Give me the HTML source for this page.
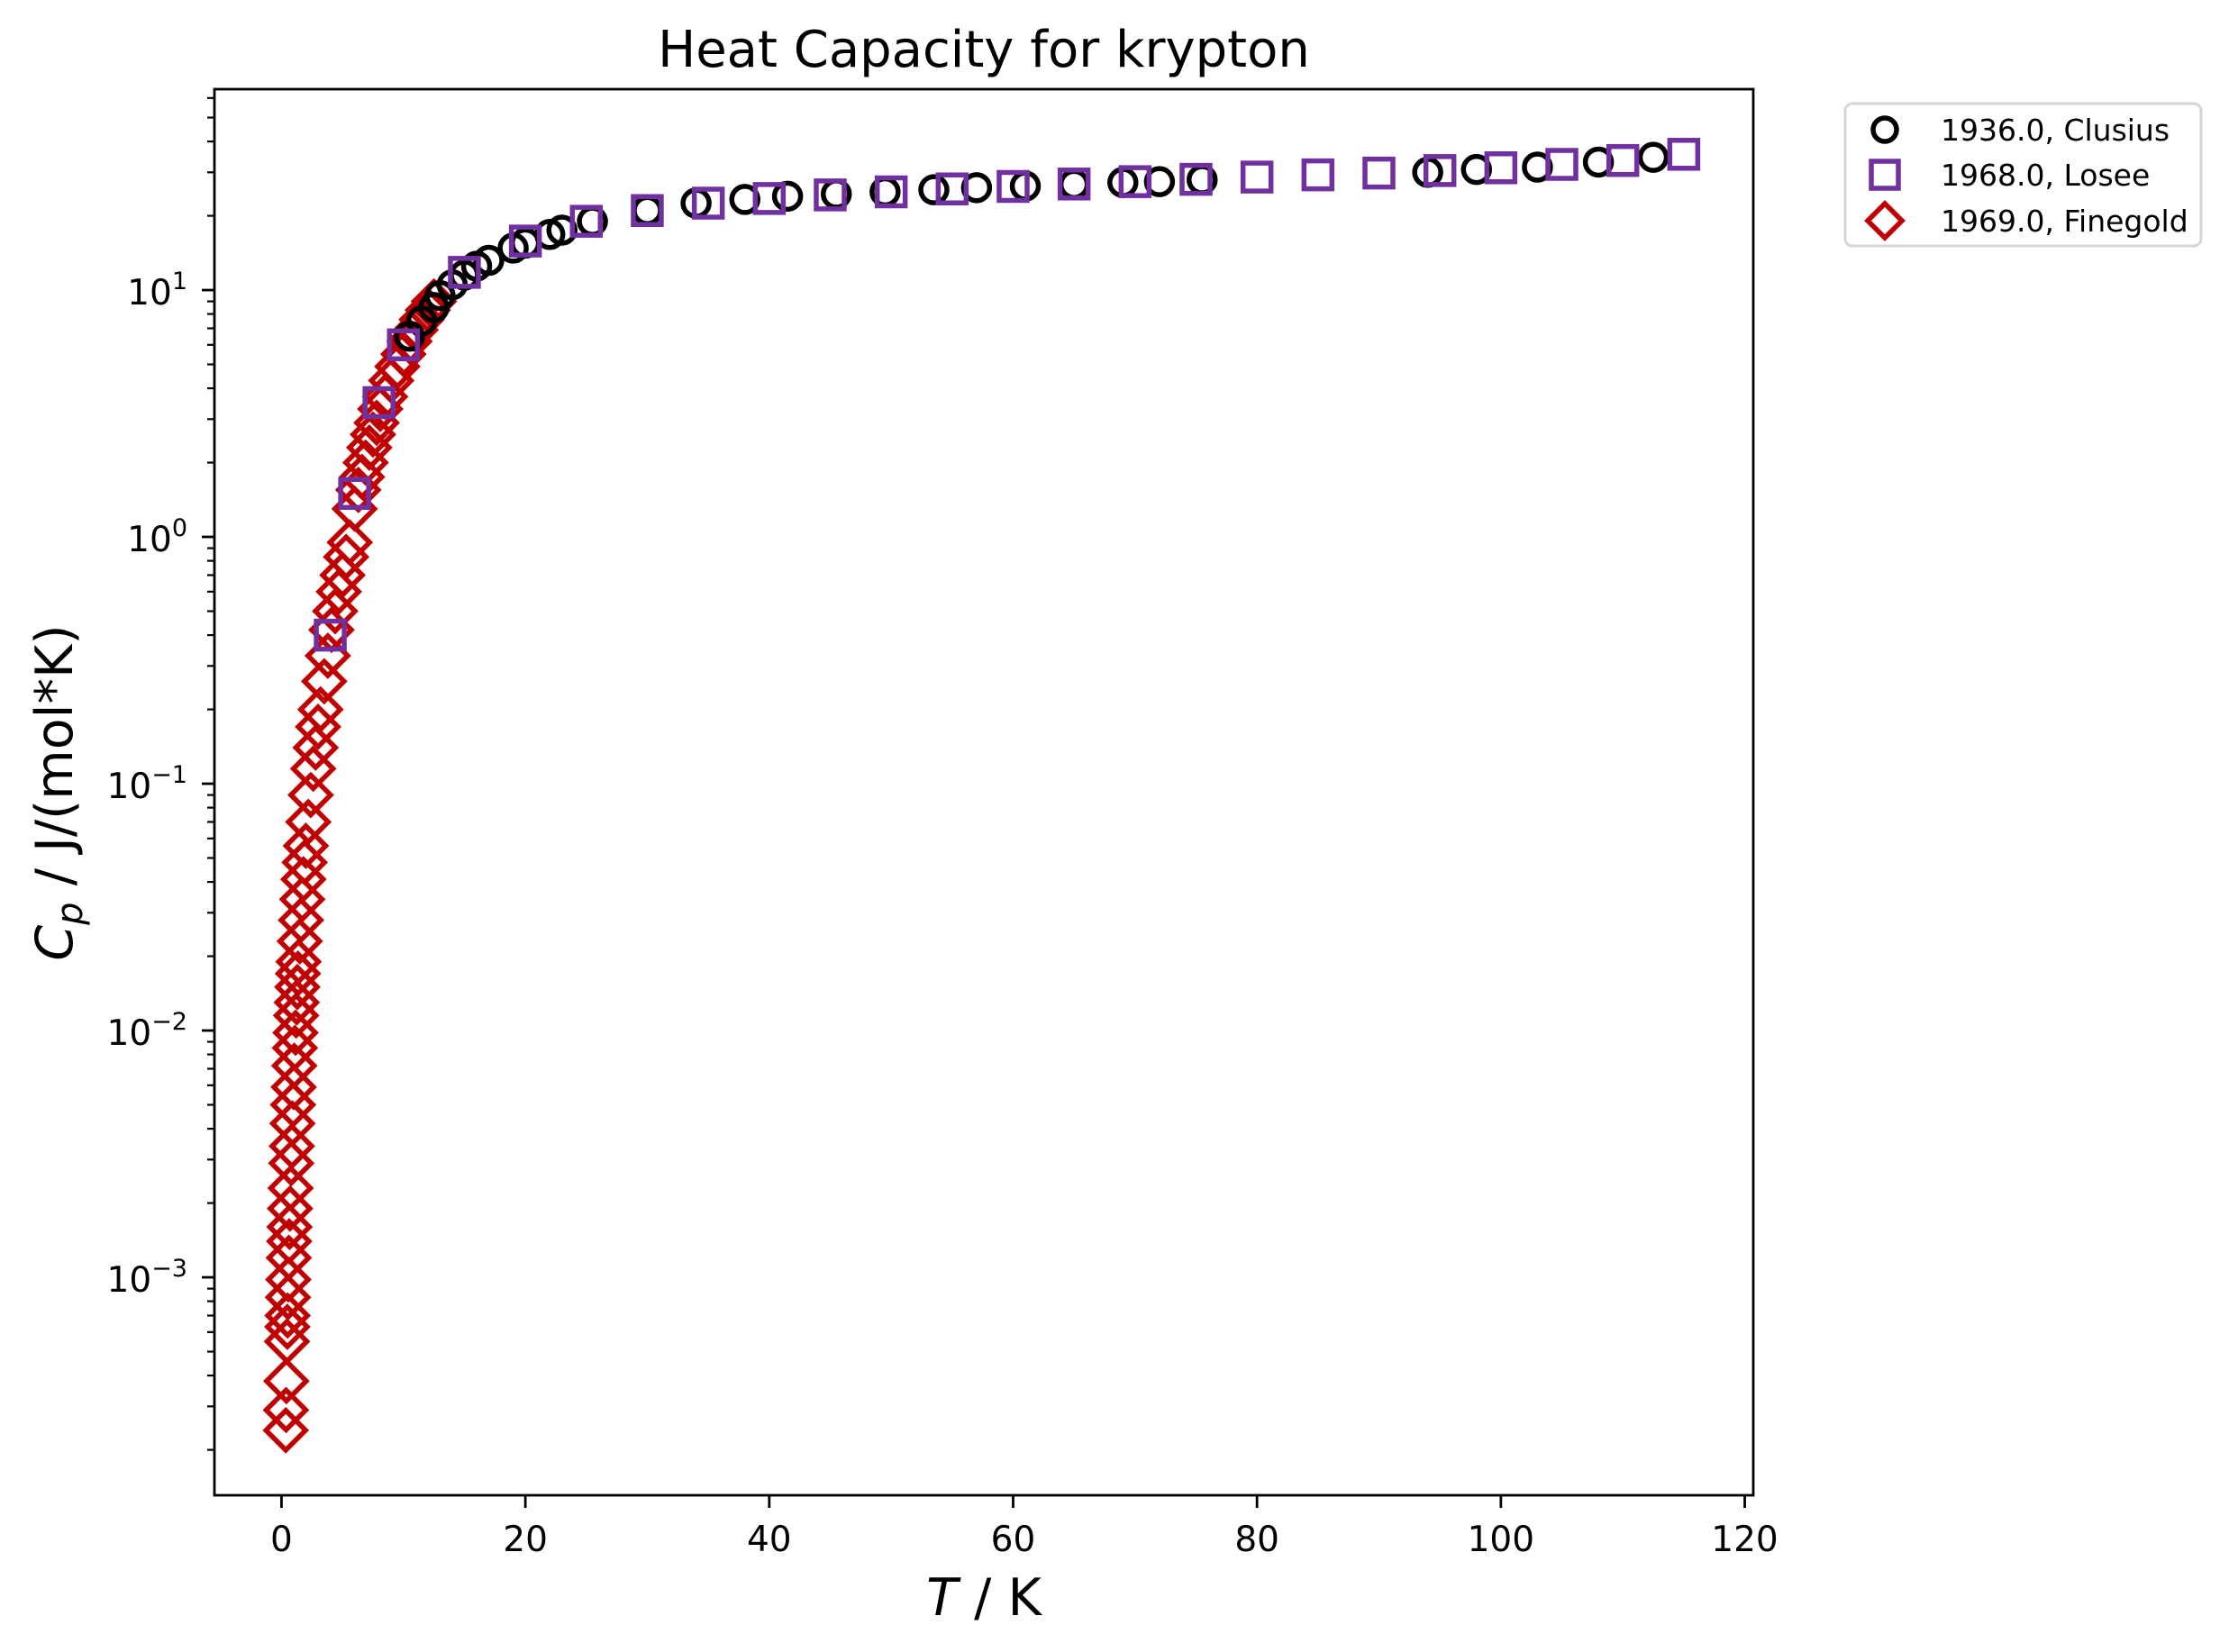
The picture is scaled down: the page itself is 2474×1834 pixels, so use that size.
<!DOCTYPE html>
<html><head><meta charset="utf-8"><style>
html,body{margin:0;padding:0;background:#fff}
svg{display:block;font-family:"DejaVu Sans","Liberation Sans",sans-serif}
</style></head><body>
<svg id="chart" width="2474" height="1834" viewBox="0 0 2474 1834" xmlns="http://www.w3.org/2000/svg">
<rect x="0" y="0" width="2474" height="1834" fill="#fff"/>
<text x="1092" y="74" font-size="56" text-anchor="middle">Heat Capacity for krypton</text>
<text x="1092" y="1793" font-size="57" text-anchor="middle"><tspan font-style="italic">T</tspan> / K</text>
<text transform="translate(80,880) rotate(-90)" font-size="57" text-anchor="middle"><tspan font-style="italic">C</tspan><tspan font-style="italic" font-size="40" dy="11">p</tspan><tspan dy="-11"> / J/(mol*K)</tspan></text>
<g id="plot"></g>
<rect x="238" y="99" width="1708" height="1561" fill="none" stroke="#000" stroke-width="2.8"/>
<g>
<rect x="2048" y="115" width="395" height="158" rx="8" fill="#fff" stroke="#d6d6d6" stroke-width="3"/>
<circle cx="2092" cy="144" r="13" fill="none" stroke="#000" stroke-width="5.5"/>
<text x="2154" y="156" font-size="33">1936.0, Clusius</text>
<rect x="2077" y="179" width="30" height="30" fill="none" stroke="#7030a0" stroke-width="5.5"/>
<text x="2154" y="206" font-size="33">1968.0, Losee</text>
<path d="M2092 226 L2111 245 L2092 264 L2073 245 Z" fill="none" stroke="#c00000" stroke-width="5.5"/>
<text x="2154" y="257" font-size="33">1969.0, Finegold</text>
</g>
</svg>
<script>
const xTicks = [0, 20, 40, 60, 80, 100, 120];
const yDecades = [-3, -2, -1, 0, 1];
const clusiusT = [10.5,11.5,12.5,13,14,15,16,17,19,20,22,23,25.5,30,34,38,41.5,45.5,49.5,53.5,57,61,65,69,72,75.5,94,98,103,108,112.5];
const clusiusCp = [6.5,7.5,8.5,9.5,10.5,11.5,12.5,13.2,14.8,15.5,16.8,17.5,19,21,22.5,23.3,24,24.5,25,25.5,26,26.4,26.8,27.3,27.5,28,30,30.8,31.5,33,34.5];
const loseeT = [4,6,8,10,15,20,25,30,35,40,45,50,55,60,65,70,75,80,85,90,95,100,105,110,115];
const loseeCp = [0.4,1.5,3.5,6,11.8,15.8,19,21,22.5,23.5,24.3,25,25.7,26.3,26.9,27.5,28.1,28.7,29.3,29.8,30.5,31.3,32.3,33.5,35.5];
const finegoldT = [0.35,0.37,0.4,0.45,0.48,0.5,0.53,0.56,0.6,0.63,0.66,0.7,0.75,0.8,0.85,0.9,0.95,1.0,1.05,1.1,1.15,1.2,1.25,1.3,1.35,1.4,1.5,1.6,1.7,1.8,1.9,2.0,2.2,2.4,2.6,2.8,3.0,3.2,3.5,3.8,4.1,4.4,4.7,5.0,5.3,5.6,6.0,6.3,6.6,6.9,7.2,7.5,7.8,8.1,8.5,9.0,9.5,10.0,10.5,11.0,11.5,12.0,12.5];
const finegoldCp = [2.4e-4,2.9e-4,3.8e-4,5.5e-4,6.3e-4,7.0e-4,8.3e-4,9.8e-4,1.2e-3,1.4e-3,1.6e-3,1.9e-3,2.3e-3,2.9e-3,3.4e-3,4.2e-3,5.0e-3,5.9e-3,7.2e-3,8.5e-3,9.8e-3,1.15e-2,1.3e-2,1.5e-2,1.7e-2,1.9e-2,2.3e-2,2.8e-2,3.4e-2,4.1e-2,4.8e-2,5.6e-2,7.0e-2,9.0e-2,0.115,0.14,0.17,0.2,0.26,0.33,0.42,0.5,0.6,0.7,0.83,0.95,1.3,1.55,1.75,2.0,2.3,2.6,2.9,3.3,3.7,4.3,4.9,5.5,6.2,6.9,7.6,8.3,9.0];

const NS = 'http://www.w3.org/2000/svg';
const L = 238, R = 1946, T = 99, B = 1660;
const XMIN = -5.5, XMAX = 120.7, YLMIN = -3.883, YLMAX = 1.814;
function sx(v){ return L + (v - XMIN) / (XMAX - XMIN) * (R - L); }
function sy(v){ return B - (Math.log10(v) - YLMIN) / (YLMAX - YLMIN) * (B - T); }
const svg = document.getElementById('chart');
const plot = document.getElementById('plot');
function mk(tag, attrs, parent){
  const e = document.createElementNS(NS, tag);
  for (const k in attrs) e.setAttribute(k, attrs[k]);
  (parent || svg).appendChild(e);
  return e;
}
xTicks.forEach(v => {
  const x = sx(v);
  const t = mk('line', {x1:x, x2:x, y1:B, y2:B+14, stroke:'#000', 'stroke-width':2.8});
  
  
  const lb = mk('text', {x:x, y:1722, 'font-size':39, 'text-anchor':'middle'});
  lb.textContent = String(v);
  
  
});
for (let d = -4; d <= 1; d++) {
  for (let m = 1; m <= 9; m++) {
    const v = m * Math.pow(10, d);
    const lv = Math.log10(v);
    if (lv < YLMIN || lv > YLMAX) continue;
    const y = sy(v);
    const len = m === 1 ? 14 : 8;
    const t = mk('line', {x1:L-len, x2:L, y1:y, y2:y, stroke:'#000', 'stroke-width': m === 1 ? 2.8 : 2.2});
    
    
  }
}
yDecades.forEach(d => {
  const y = sy(Math.pow(10, d));
  const lb = mk('text', {x:208, y:y+16, 'font-size':39, 'text-anchor':'end'});
  const base = document.createElementNS(NS, 'tspan');
  base.textContent = '10';
  const sup = document.createElementNS(NS, 'tspan');
  sup.setAttribute('font-size', '27');
  sup.setAttribute('dy', '-17');
  sup.textContent = d < 0 ? '\u2212' + Math.abs(d) : String(d);
  lb.appendChild(base); lb.appendChild(sup);
  
  
});
finegoldT.forEach((tv, i) => {
  const x = sx(tv), y = sy(finegoldCp[i]);
  const h = 22;
  const p = mk('path', {d:`M${x} ${y-h} L${x+h} ${y} L${x} ${y+h} L${x-h} ${y} Z`, fill:'none', stroke:'#c00000', 'stroke-width':5.5}, plot);
  
  
});
clusiusT.forEach((tv, i) => {
  const c = mk('circle', {cx:sx(tv), cy:sy(clusiusCp[i]), r:14.5, fill:'none', stroke:'#000', 'stroke-width':5.5}, plot);
  
  
});
loseeT.forEach((tv, i) => {
  const r = mk('rect', {x:sx(tv)-15.5, y:sy(loseeCp[i])-15.5, width:31, height:31, fill:'none', stroke:'#7030a0', 'stroke-width':5.5}, plot);
  
  
});
</script>
</body></html>
